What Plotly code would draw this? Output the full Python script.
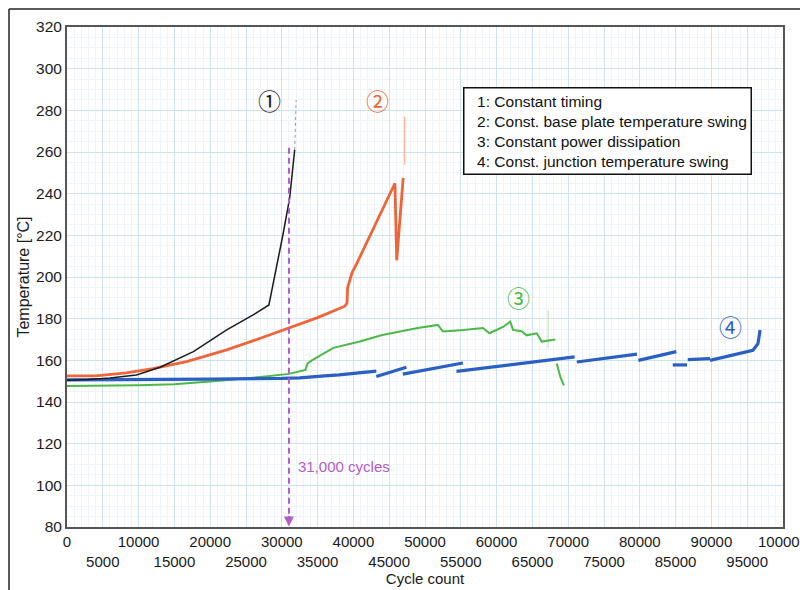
import plotly.graph_objects as go

# ---------------- data ----------------
# Curve 1: constant timing (black)
c1_x = [0, 3000, 6000, 9700, 13000, 17650, 22300, 26000, 28200, 29000, 30200, 31100, 31500, 31800]
c1_y = [150.5, 150.8, 151.5, 153, 156.7, 164.2, 174.6, 181.8, 186.6, 200, 221, 238, 250, 261]
c1_tail_x = [31800, 31900, 32000]
c1_tail_y = [261, 275, 285]

# Curve 2: const. base plate temperature swing (orange)
c2_x = [0, 4000, 8300, 12000, 16700, 22300, 27000, 31600, 35000, 38800, 39100, 39200, 39800,
        40500, 43000, 45800, 46050, 46950]
c2_y = [152.5, 152.5, 154, 156, 159.4, 165, 170.6, 176.2, 180.5, 186, 187.5, 195, 202,
        206.7, 224.5, 245, 208, 247.6]
c2_tail_x = [47150, 47150]
c2_tail_y = [254, 277]

# Curve 3: constant power dissipation (green)
c3_x = [0, 5000, 10000, 15000, 20000, 27000, 31000, 33300, 33600, 34200, 37200, 40900, 43900,
        46500, 49000, 51800, 52500, 55000, 58100, 59000, 60900, 61900, 62300, 63500, 64200,
        65600, 66300, 68200, None, 68400, 68900, 69400]
c3_y = [147.7, 147.7, 148, 148.5, 149.8, 152, 153.5, 155.4, 158.5, 160, 166, 169, 172,
        173.8, 175.5, 177, 173.8, 174.5, 175.5, 173, 176, 178.6, 174.6, 174, 172,
        173, 169, 170, None, 158.5, 152, 148]
c3_tail_x = [67200, 67200]
c3_tail_y = [166, 184]

# Curve 4: const. junction temperature swing (blue, saw-tooth segments)
c4_x = [0, 10000, 20000, 30000, 32500, 36000, 38000, 43200, None,
        43200, 47400, None,
        46900, 55300, None,
        54400, 62000, 70900, None,
        71200, 74400, 79600, None,
        79800, 85100, None,
        84600, 86600, None,
        86700, 89800, None,
        89800, 95800, 96500, 96800]
c4_y = [150.6, 150.7, 151, 151.3, 151.6, 152.5, 153, 154.8, None,
        152.2, 156.7, None,
        153.4, 158.7, None,
        154.7, 157.8, 161.7, None,
        159.2, 160.6, 163, None,
        160, 164.2, None,
        157.8, 157.8, None,
        160.3, 160.8, None,
        160, 164.8, 168, 174.6]

# marker line at 31,000 cycles
marker_x = [31000, 31000]
marker_y = [262, 81]

# axis ticks
x_tick_vals = list(range(0, 100001, 5000))
x_tick_text = [str(v) if (v // 5000) % 2 == 0 else "<br>" + str(v) for v in x_tick_vals]
y_tick_vals = list(range(80, 321, 20))

legend_lines = ["1: Constant timing",
                "2: Const. base plate temperature swing",
                "3: Constant power dissipation",
                "4: Const. junction temperature swing"]

labels = ["①", "②", "③", "④"]
label_x = [28350, 43400, 63000, 92700]
label_y = [285, 285, 190.4, 176.5]

# ---------------- styling ----------------
BLACK = "#1c1c1c"
ORANGE = "#f0643a"
GREEN = "#4cb848"
BLUE = "#2a5fc4"
PURPLE = "#b35cc9"
FONT = "Liberation Sans, Arial, Helvetica, sans-serif"

fig = go.Figure()

fig.add_trace(go.Scatter(x=c1_tail_x, y=c1_tail_y, mode="lines",
                         line=dict(color="#9a9a9a", width=1, dash="dot"), hoverinfo="skip"))
fig.add_trace(go.Scatter(x=c2_tail_x, y=c2_tail_y, mode="lines",
                         line=dict(color="#f6b8a0", width=1.5), hoverinfo="skip"))
fig.add_trace(go.Scatter(x=c3_tail_x, y=c3_tail_y, mode="lines",
                         line=dict(color="#b8e0b0", width=1), hoverinfo="skip"))

fig.add_trace(go.Scatter(x=c3_x, y=c3_y, mode="lines", name=legend_lines[2],
                         line=dict(color=GREEN, width=2)))
fig.add_trace(go.Scatter(x=c4_x, y=c4_y, mode="lines", name=legend_lines[3],
                         line=dict(color=BLUE, width=3.2)))
fig.add_trace(go.Scatter(x=c2_x, y=c2_y, mode="lines", name=legend_lines[1],
                         line=dict(color=ORANGE, width=2.8)))
fig.add_trace(go.Scatter(x=c1_x, y=c1_y, mode="lines", name=legend_lines[0],
                         line=dict(color=BLACK, width=1.5)))

fig.add_trace(go.Scatter(x=marker_x, y=marker_y, mode="lines",
                         line=dict(color=PURPLE, width=2, dash="6px,4px"), hoverinfo="skip"))

# arrow head at bottom of marker line
fig.add_annotation(x=marker_x[0], y=80.3, ax=marker_x[0], ay=86, xref="x", yref="y",
                   axref="x", ayref="y", showarrow=True, arrowhead=2, arrowsize=1,
                   arrowwidth=2, arrowcolor=PURPLE, text="")
fig.add_annotation(x=32000, y=109, xref="x", yref="y", text="31,000 cycles",
                   showarrow=False, xanchor="left", yanchor="middle",
                   font=dict(family=FONT, size=15, color=PURPLE))

# legend box
fig.add_annotation(x=55300, y=291.2, xref="x", yref="y", xanchor="left", yanchor="top",
                   text="<br>".join("&nbsp;&nbsp;" + s for s in legend_lines),
                   showarrow=False, align="left",
                   bordercolor="#111111", borderwidth=1.5, borderpad=4, bgcolor="white",
                   font=dict(family=FONT, size=15.5, color="#111111"))

label_colors = [BLACK, ORANGE, GREEN, BLUE]
for t, xx, yy, cc in zip(labels, label_x, label_y, label_colors):
    fig.add_annotation(x=xx, y=yy, xref="x", yref="y", text=t, showarrow=False,
                       font=dict(family="Noto Sans CJK JP, DejaVu Sans", size=23, color=cc))

# outer frame lines
fig.add_shape(type="line", xref="paper", yref="paper", x0=-0.081, x1=-0.081, y0=1.036, y1=-0.2,
              line=dict(color="#222222", width=1.5))
fig.add_shape(type="line", xref="paper", yref="paper", x0=-0.081, x1=1.1, y0=1.036, y1=1.036,
              line=dict(color="#222222", width=1.5))

fig.update_layout(
    width=808, height=590,
    margin=dict(l=59, r=33, t=19, b=71, autoexpand=False),
    paper_bgcolor="white", plot_bgcolor="white",
    showlegend=False,
    font=dict(family=FONT, size=15, color="#1a1a1a"),
    xaxis=dict(range=[0, 100000], tickmode="array", tickvals=x_tick_vals, ticktext=x_tick_text,
               showgrid=True, gridcolor="#cde4f0", gridwidth=1,
               minor=dict(dtick=1000, showgrid=True, gridcolor="#edf5fa", gridwidth=1),
               showline=True, linecolor="#555555", linewidth=2, mirror=True,
               ticks="", zeroline=False, tickangle=0, automargin=False,
               tickfont=dict(size=15),
               title=dict(text="Cycle count", font=dict(size=15), standoff=0)),
    yaxis=dict(range=[80, 320], tickmode="array", tickvals=y_tick_vals,
               showgrid=True, gridcolor="#cde4f0", gridwidth=1,
               minor=dict(dtick=5, showgrid=True, gridcolor="#edf5fa", gridwidth=1),
               showline=True, linecolor="#555555", linewidth=2, mirror=True,
               ticks="", zeroline=False, automargin=False,
               tickfont=dict(size=15.5),
               title=dict(text="Temperature [°C]", font=dict(size=16), standoff=2)),
)

fig.write_html("out.html")
